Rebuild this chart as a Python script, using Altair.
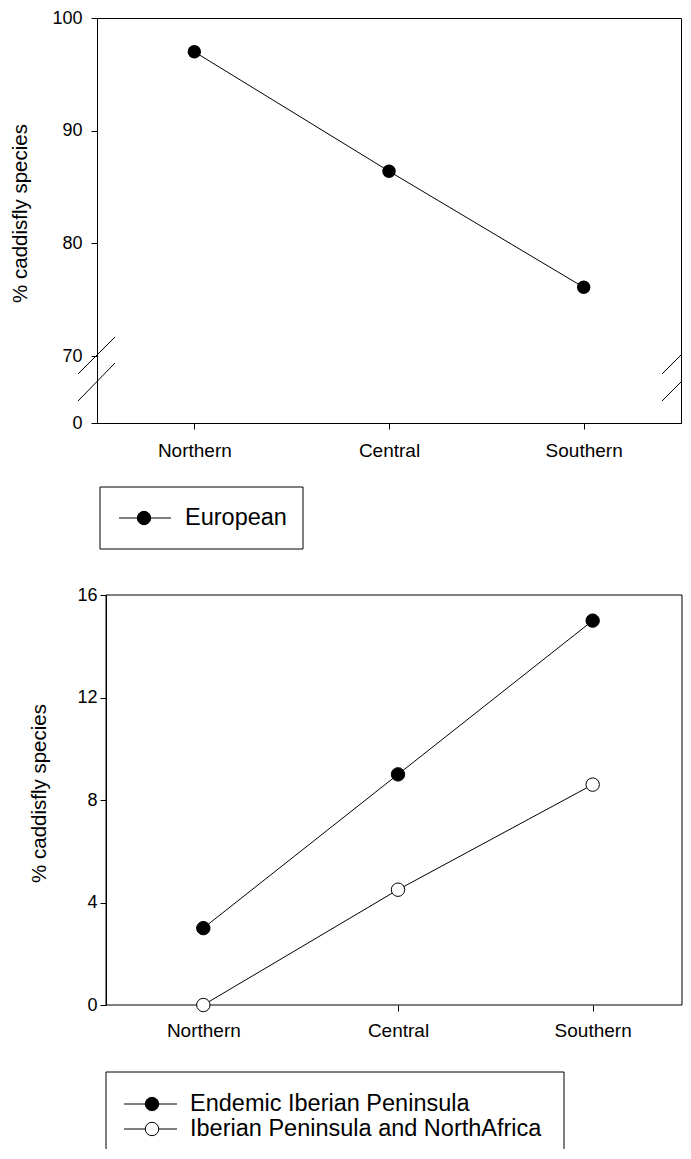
import altair as alt
import pandas as pd

# ---------------- data ----------------
regions = ["Northern", "Central", "Southern"]
european = [97.0, 86.4, 76.1]
endemic = [3.0, 9.0, 15.0]
iberian_na = [0.0, 4.5, 8.6]
top_ticks = [0, 70, 80, 90, 100]
bottom_ticks = [0, 4, 8, 12, 16]
y_title = "% caddisfly species"
legend_top = ["European"]
legend_bottom = ["Endemic Iberian Peninsula", "Iberian Peninsula and NorthAfrica"]

# ---------------- layout constants ----------------
FONT = "Liberation Sans"
W1 = 584               # upper plot width
W2 = 576               # lower plot frame width
S = 9                  # the lower panel sits this many px to the right
H1 = 405
H2 = 410
BREAK_PX = 67          # pixel height of the compressed 0-70 segment
XLAB = 19
YLAB = 18
TITLE = 20.5
LEG = 23.5
PT = 180

one = pd.DataFrame({"k": [0]})


def xenc(rng=None, pad=12):
    sc = alt.Scale(type="point", padding=0.5) if rng is None else \
        alt.Scale(type="point", padding=0.5, range=rng)
    return alt.X(
        "region:N", sort=regions, scale=sc,
        axis=alt.Axis(title=None, labelAngle=0, labelFontSize=XLAB, tickSize=6,
                      labelPadding=pad, domain=rng is None),
    )


def rule(x0, y0, x1, y1):
    return alt.Chart(one).mark_rule(color="black", strokeWidth=1).encode(
        x=alt.value(x0), y=alt.value(y0), x2=alt.value(x1), y2=alt.value(y1))


def dot(x, y, filled=True):
    return alt.Chart(one).mark_circle(
        size=PT, opacity=1, fill="black" if filled else "white",
        stroke="black", strokeWidth=1).encode(x=alt.value(x), y=alt.value(y))


def label(x, y, txt):
    return alt.Chart(one).mark_text(
        text=txt, align="left", baseline="middle", font=FONT, fontSize=LEG,
        color="black").encode(x=alt.value(x), y=alt.value(y))


# ---------------- top panel ----------------
top_df = pd.DataFrame({"region": regions, "value": european})
ytop = alt.Y(
    "value:Q",
    scale=alt.Scale(domain=[0, 70, 100], range=[H1, H1 - BREAK_PX, 0],
                    nice=False, zero=False),
    axis=alt.Axis(values=top_ticks, format="d", title=y_title, titleFontSize=TITLE,
                  labelFontSize=YLAB, tickSize=6, labelPadding=9, titlePadding=21,
                  titleY=195),
)
base_top = alt.Chart(top_df).encode(x=xenc(pad=12), y=ytop)
top_line = base_top.mark_line(color="black", strokeWidth=1)
top_pts = base_top.mark_circle(size=PT, opacity=1, color="black")

top_layers = [
    top_line, top_pts,
    # axis break marks
    rule(-19, 356, 18, 319), rule(-19, 383, 18, 345),
    rule(W1 - 19, 356, W1 + 1, 336), rule(W1 - 19, 383, W1 + 1, 363),
    # legend
    alt.Chart(one).mark_rect(fill="white", stroke="black", strokeWidth=1).encode(
        x=alt.value(3), x2=alt.value(206), y=alt.value(469), y2=alt.value(531)),
    rule(22, 500, 74, 500), dot(47, 500, True), label(88, 500, legend_top[0]),
]
top = alt.layer(*top_layers).properties(width=W1, height=H1)

# ---------------- bottom panel ----------------
b1 = pd.DataFrame({"region": regions, "value": endemic})
b2 = pd.DataFrame({"region": regions, "value": iberian_na})
ybot = alt.Y(
    "value:Q",
    scale=alt.Scale(domain=[0, 16], nice=False, zero=False),
    axis=alt.Axis(values=bottom_ticks, format="d", title=y_title, titleFontSize=TITLE,
                  labelFontSize=YLAB, tickSize=6, labelPadding=3, titlePadding=27,
                  offset=-S, titleY=198),
)
xb = xenc([S, S + W1], pad=10)
bot_layers = [
    # frame of the lower plot area
    alt.Chart(one).mark_rect(fill="transparent", stroke="black", strokeWidth=1).encode(
        x=alt.value(S), x2=alt.value(S + W2), y=alt.value(0), y2=alt.value(H2)),
    alt.Chart(b1).mark_line(color="black", strokeWidth=1).encode(x=xb, y=ybot),
    alt.Chart(b2).mark_line(color="black", strokeWidth=1).encode(x=xb, y=ybot),
    alt.Chart(b1).mark_circle(size=PT, opacity=1, fill="black", stroke="black",
                              strokeWidth=1).encode(x=xb, y=ybot),
    alt.Chart(b2).mark_circle(size=PT, opacity=1, fill="white", stroke="black",
                              strokeWidth=1).encode(x=xb, y=ybot),
    # legend (box runs off the bottom of the page)
    rule(S, 477, S + 458, 477), rule(S, 477, S, 554), rule(S + 458, 477, S + 458, 554),
    rule(S + 18, 509, S + 71, 509), dot(S + 46, 509, True),
    label(S + 84, 509, legend_bottom[0]),
    rule(S + 18, 534, S + 71, 534), dot(S + 46, 534, False),
    label(S + 84, 534, legend_bottom[1]),
]
bottom = alt.layer(*bot_layers).properties(
    width=S + W2, height=H2, view=alt.ViewBackground(stroke="transparent"))

chart = alt.vconcat(top, bottom, spacing=35, bounds="full").properties(
    padding={"left": 2, "top": 0, "right": 0, "bottom": 0}, background="white"
).configure_view(stroke="black", strokeWidth=1).configure_axis(
    grid=False, labelFont=FONT, titleFont=FONT, labelColor="black", titleColor="black",
    tickColor="black", domainColor="black", titleFontWeight="normal", domainWidth=1,
    tickWidth=1,
)

chart.save("out.html", embed_options={"renderer": "svg", "actions": False})
